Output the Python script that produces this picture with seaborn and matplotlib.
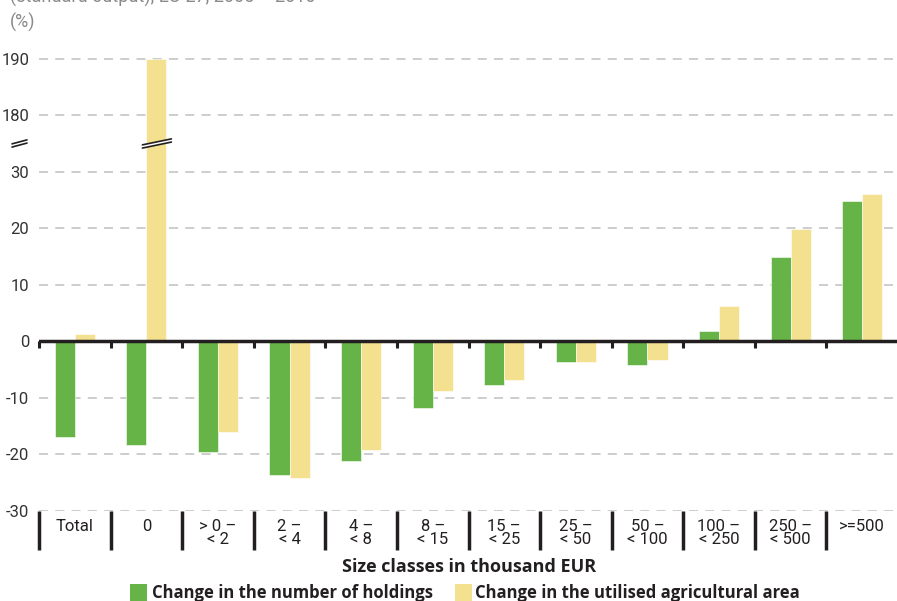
import matplotlib
matplotlib.use("Agg")
import matplotlib.pyplot as plt
import matplotlib.font_manager as fm
from matplotlib.patches import Rectangle, Polygon
import seaborn as sns
import pandas as pd
import numpy as np

# ---- data ----
categories = ["Total", "0", "> 0 –\n< 2", "2 –\n< 4", "4 –\n< 8", "8 –\n< 15",
              "15 –\n< 25", "25 –\n< 50", "50 –\n< 100", "100 –\n< 250",
              "250 –\n< 500", ">=500"]
holdings = [-17.0, -18.3, -19.6, -23.7, -21.1, -11.7, -7.8, -3.7, -4.1, 1.8, 14.9, 24.8]
uaa = [1.3, 190.0, -16.0, -24.2, -19.3, -8.7, -6.9, -3.7, -3.3, 6.2, 19.8, 26.0]
series_names = ["Change in the number of holdings", "Change in the utilised agricultural area"]
ytick_vals = [-30, -20, -10, 0, 10, 20, 30, 180, 190]
colors = ["#66b447", "#f4e190"]

# axis break: values above the break are shifted down by this amount
BREAK_SHIFT = 140.0

def to_axis(v):
    return v - BREAK_SHIFT if v > 100 else v

sns.set_theme(style="white")
avail = {f.name for f in fm.fontManager.ttflist}
narrow = "Liberation Sans Narrow" if "Liberation Sans Narrow" in avail else "Roboto"
plt.rcParams["font.family"] = [narrow, "DejaVu Sans"]

df = pd.DataFrame({
    "cat": categories * 2,
    "series": [series_names[0]] * len(categories) + [series_names[1]] * len(categories),
    "value": [to_axis(v) for v in holdings] + [to_axis(v) for v in uaa],
})

W, H = 897, 601
fig = plt.figure(figsize=(W / 100, H / 100), dpi=100)
ax_left, ax_right = 39, 898
y_bot_px, y_top_px = 511, 53
ax = fig.add_axes([ax_left / W, (H - y_bot_px) / H, (ax_right - ax_left) / W, (y_bot_px - y_top_px) / H])

sns.barplot(data=df, x="cat", y="value", hue="series", palette=colors, width=0.56,
            ax=ax, legend=False, saturation=1, edgecolor="white", linewidth=0.4, zorder=3)

ax.set_xlim(-0.5, len(categories) - 0.5)
ymin, ymax = -30, 51
ax.set_ylim(ymin, ymax)
for s in ax.spines.values():
    s.set_visible(False)
ax.set_xlabel("")
ax.set_ylabel("")
ax.set_xticks([])
axis_pos = [to_axis(v) for v in ytick_vals]
ax.set_yticks(axis_pos)
ax.set_yticklabels([str(v) for v in ytick_vals], fontsize=12, color="#333333")
ax.tick_params(axis="y", length=0, pad=7)

for p in axis_pos:
    if p != 0:
        ax.axhline(p, color="#c9c9c9", lw=1.3, ls=(0, (5, 4)), zorder=1)
ax.axhline(0, color="#231f20", lw=2.5, zorder=4)

px_per_unit = (y_bot_px - y_top_px) / (ymax - ymin)
# separators at zero line and under the axis
for k in range(len(categories)):
    xb = k - 0.5
    ax.plot([xb, xb], [0, -7 / px_per_unit], color="#231f20", lw=2.2, clip_on=False, zorder=4,
            solid_capstyle="butt")
    ax.plot([xb, xb], [ymin, ymin - 39 / px_per_unit], color="#231f20", lw=2.5, clip_on=False,
            zorder=4, solid_capstyle="butt")
    ax.text(k, ymin - 8 / px_per_unit, categories[k], ha="center", va="top", fontsize=12,
            color="#231f20", linespacing=0.8)

# break marks
brk = 35
def slash(x0, x1, yc, dy, gap, white=False):
    xs = [x0, x1]
    for off in (-gap / 2, gap / 2):
        ys = [yc + off - dy / 2, yc + off + dy / 2]
        ax.plot(xs, ys, color="#231f20", lw=1.2, clip_on=False, zorder=6)
    if white:
        poly = Polygon([[x0, yc - gap / 2 - dy / 2], [x1, yc - gap / 2 + dy / 2],
                        [x1, yc + gap / 2 + dy / 2], [x0, yc + gap / 2 - dy / 2]],
                       closed=True, facecolor="white", edgecolor="none", zorder=5, clip_on=False)
        ax.add_patch(poly)

u = 1 / 71.6  # px -> category units
slash(1.14 - 14 * u, 1.14 + 15 * u, brk, 6 / px_per_unit, 3.2 / px_per_unit, white=True)
slash(-0.5 - 27 * u, -0.5 - 12 * u, brk, 4 / px_per_unit, 3.2 / px_per_unit)

# texts
fig.text(10 / W, 1 - 22 / H, "(%)", fontsize=13, color="#8a8a8a", va="center", ha="left")
fig.text(10 / W, 1 + 3 / H, "(standard output), EU-27, 2005 – 2010", fontsize=13,
         color="#8a8a8a", va="center", ha="left")
fig.text(469 / W, 1 - 567 / H, "Size classes in thousand EUR", fontsize=13, fontweight="bold",
         family=["Open Sans", "DejaVu Sans"], color="#231f20", ha="center", va="center")

leg_y = 1 - 593 / H
for (x_sq, x_txt, name, c) in [(130, 152, series_names[0], colors[0]),
                               (455, 475, series_names[1], colors[1])]:
    fig.patches.append(Rectangle((x_sq / W, 1 - 601 / H), 17 / W, 17 / H, transform=fig.transFigure,
                                 facecolor=c, edgecolor="none"))
    fig.text(x_txt / W, leg_y, name, fontsize=12, fontweight="bold",
             family=["Open Sans", "DejaVu Sans"], color="#231f20", ha="left", va="center")

fig.savefig("out.png", dpi=100)
